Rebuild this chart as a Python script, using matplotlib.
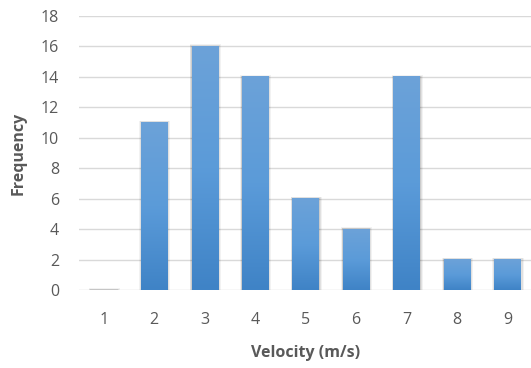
import numpy as np
import matplotlib
matplotlib.use("Agg")
import matplotlib.pyplot as plt

velocity = [1, 2, 3, 4, 5, 6, 7, 8, 9]
frequency = [0, 11, 16, 14, 6, 4, 14, 2, 2]
yticks = [0, 2, 4, 6, 8, 10, 12, 14, 16, 18]

plt.rcParams["font.family"] = ["Open Sans", "DejaVu Sans"]
text_color = "#595959"

fig = plt.figure(figsize=(5.31, 3.68), dpi=100)
ax = fig.add_axes([0.148, 0.212, 0.855, 0.745])

# vertical blue gradient, lighter at the top
grad = np.linspace(0, 1, 256).reshape(-1, 1)
cmap = matplotlib.colors.LinearSegmentedColormap.from_list(
    "bar", ["#3f83c6", "#5b9bd9", "#6ca2d8"])

width = 0.52
bars = ax.bar(velocity, frequency, width=width, color="none", lw=0, zorder=2)
for b in bars:
    x0, y0 = b.get_x(), b.get_y()
    w, h = b.get_width(), b.get_height()
    # soft shadow around each bar
    for k, a in [(0.06, 0.05), (0.04, 0.07), (0.02, 0.09)]:
        ax.add_patch(plt.Rectangle((x0 - k * 0.6, y0), w + k * 1.6, h + k * 2,
                                   color="black", alpha=a, lw=0, zorder=2))
    if h <= 0:
        continue
    ax.imshow(grad, extent=(x0, x0 + w, y0, y0 + h), origin="lower",
              cmap=cmap, aspect="auto", zorder=3)

ax.set_xlim(0.5, 9.5)
ax.set_ylim(0, 18)

ax.set_yticks(yticks)
ax.set_xticks(velocity)
ax.grid(axis="y", color="#d9d9d9", lw=1, zorder=0)
for s in ax.spines.values():
    s.set_visible(False)
ax.tick_params(length=0, colors=text_color, labelsize=11.5)
ax.tick_params(axis="x", pad=16)
ax.tick_params(axis="y", pad=14)

ax.set_xlabel("Velocity (m/s)", color=text_color, fontsize=11.5,
              fontweight="bold", labelpad=12)
ax.set_ylabel("Frequency", color=text_color, fontsize=11.5,
              fontweight="bold", labelpad=10)

fig.savefig("out.png", dpi=100)
